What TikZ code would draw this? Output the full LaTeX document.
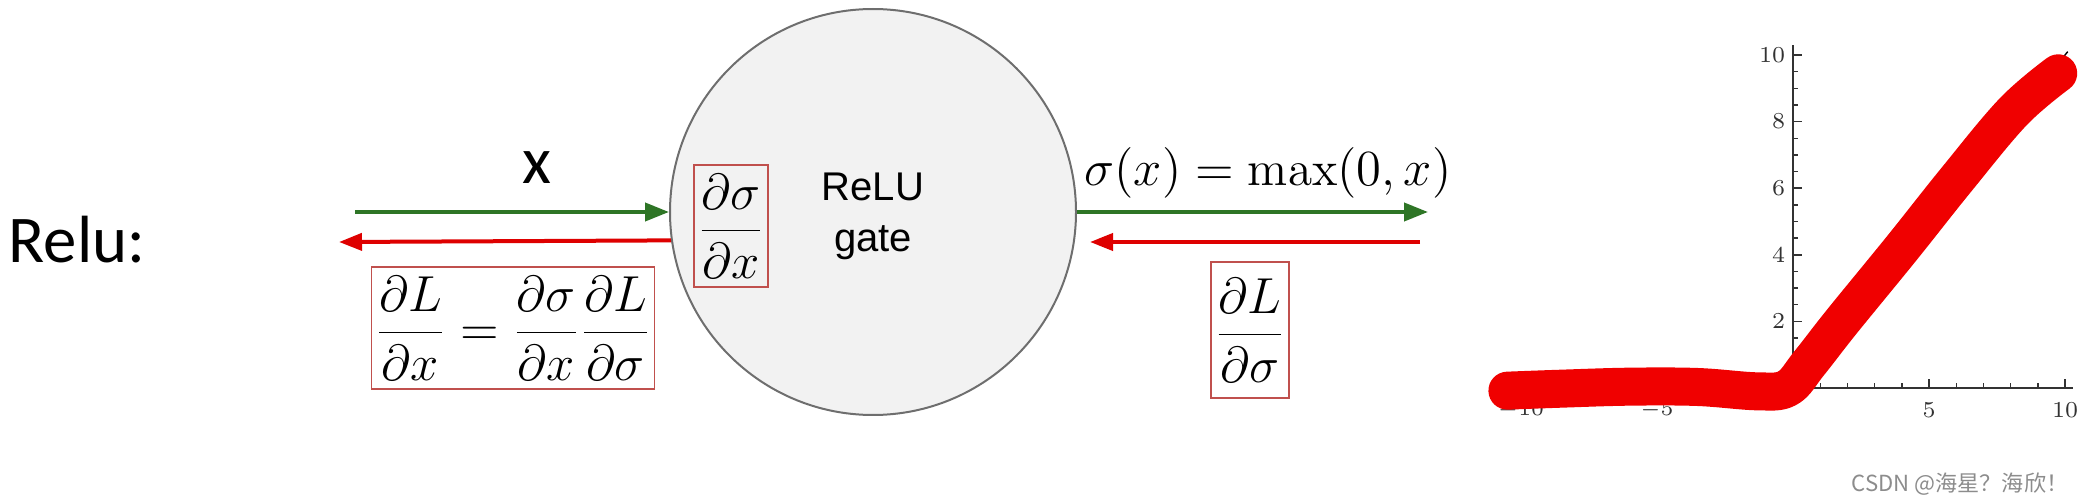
\documentclass[tikz,border=0pt]{standalone}
\usepackage{fontspec}
\newfontfamily\slidefont{Carlito}
\newfontfamily\gatefont{Liberation Sans}
\newfontfamily\cjkfont{Noto Sans CJK SC}
\usetikzlibrary{arrows.meta}
\definecolor{fwdgreen}{RGB}{46,117,38}
\definecolor{bwdred}{RGB}{222,0,0}
\definecolor{boxred}{RGB}{192,80,77}
\definecolor{gatefill}{RGB}{242,242,242}
\definecolor{gateline}{RGB}{110,110,110}
\definecolor{plotred}{RGB}{240,0,0}
\definecolor{ticktext}{RGB}{50,50,50}

\begin{document}
\begin{tikzpicture}[x=0.1mm,y=-0.1mm]
        \tikzstyle{every node}=[inner sep=0pt]
        \tikzstyle{mathtext}=[font=\fontsize{14}{17}\selectfont]
        \tikzstyle{slidetext}=[font=\slidefont\fontsize{19}{23}\selectfont]
        \tikzstyle{gradbox}=[mathtext, draw=boxred, line width=0.5pt, inner xsep=1pt, inner ysep=2.5pt]
        \tikzstyle{fwd}=[draw=fwdgreen, line width=0.4mm, -{Triangle[length=2.4mm,width=1.8mm]}]
        \tikzstyle{bwd}=[draw=bwdred, line width=0.4mm, -{Triangle[length=2.3mm,width=1.7mm]}]
        \tikzstyle{axisline}=[line width=0.4pt, draw=black!80]
        \tikzstyle{ticklabel}=[font=\fontsize{6.5}{8}\selectfont, text=ticktext]
        \useasboundingbox (0,0) rectangle (2079,502);
        % gate
        \node [circle, minimum size=40.6mm, fill=gatefill, draw=gateline, line width=0.2mm] (gate) at (873,212) {};
        \node [font=\gatefont\fontsize{11.4}{14.5}\selectfont, align=center] (gatetxt) at (873,216) {ReLU\\gate};
        \node [gradbox] (dsdx) at (731,226) {$\displaystyle\frac{\partial\sigma}{\partial x}$};
        % labels
        \node [slidetext, anchor=west] (title) at (8,240) {Relu:};
        \node [slidetext] (xin) at (537,168) {x};
        \node [mathtext, anchor=base] (sigmax) at (1268,186) {$\sigma(x)=\max(0,x)$};
        \node [gradbox] (dLdx) at (513,328) {$\displaystyle\frac{\partial L}{\partial x}=\frac{\partial\sigma}{\partial x}\frac{\partial L}{\partial\sigma}$};
        \node [gradbox, inner ysep=4.5pt] (dLds) at (1250,330) {$\displaystyle\frac{\partial L}{\partial\sigma}$};
        % arrows
        \coordinate (inL) at (355,212);
        \coordinate (outL) at (339,242);
        \coordinate (outR) at (1428,212);
        \coordinate (inR) at (1420,242);
        \coordinate (tipR) at (1090,242);
        \draw [fwd] (inL) -- (gate.west);
        \draw [bwd] (gate.188) -- (outL);
        \draw [fwd] (gate.east) -- (outR);
        \draw [bwd] (inR) -- (tipR);
        % relu plot
        \begin{scope}[shift={(1793,388)}, x=2.72mm, y=3.33mm]
        \draw [axisline] (-10,0) -- (10.3,0);
        \draw [axisline] (0,0) -- (0,10.3);
        \foreach \k in {-10,...,10} \draw [axisline] (\k,0) -- (\k,0.15);
        \foreach \k in {-10,-5,5,10} \draw [axisline] (\k,0) -- (\k,0.27);
        \foreach \k in {1,...,20} \draw [axisline] (0,\k/2) -- (0.18,\k/2);
        \foreach \k in {2,4,...,10} {
            \draw [axisline] (0,\k) -- (0.33,\k);
            \node [ticklabel, anchor=east] (yl\k) at (-0.26,\k) {\k};
        }
        \foreach \k/\t [count=\i] in {-10/$-10$, -5/$-5$, 5/5, 10/10}
            \node [ticklabel, anchor=north] (xl\i) at (\k,-0.4) {\t};
        \draw [line width=0.4pt] (-10,0) -- (0,0) -- (10.1,10.1);
        \draw [plotred, line width=3.8mm, line cap=round, line join=round] plot [smooth, tension=0.6] coordinates {(-10.5,-0.08) (-8.5,-0.02) (-6,0.04) (-3.5,0.03) (-1.3,-0.1) (-0.2,0.0) (0.6,0.75) (1.8,2.0) (4,4.2) (6,6.25) (8.1,8.3) (9.75,9.45)};
        \end{scope}
        \node [font=\cjkfont\fontsize{6.3}{7.5}\selectfont, text=black!45, anchor=east] (mark) at (2069,484) {CSDN @海星？海欣！};
\end{tikzpicture}
\end{document}
